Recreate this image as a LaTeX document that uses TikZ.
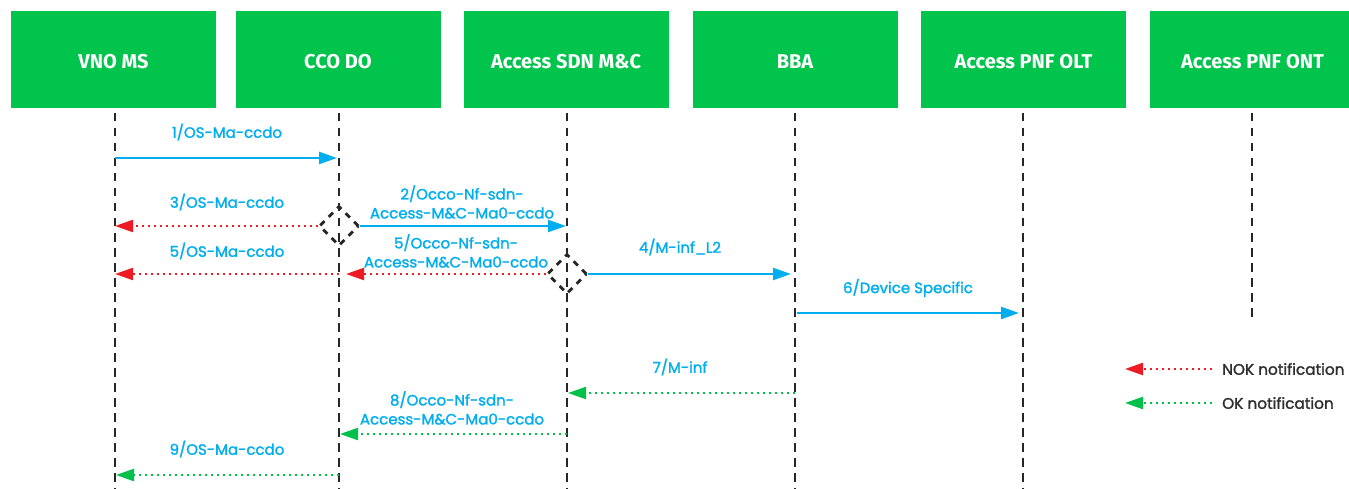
\documentclass[tikz,border=0pt]{standalone}
\usepackage{fontspec}
\setmainfont{Fira Sans}
\newfontfamily\lblfont[FakeBold=1.6]{Poppins}
\newfontfamily\headfont{Fira Sans}
\usetikzlibrary{arrows.meta,shapes.geometric}
\definecolor{boxgreen}{RGB}{0,196,76}
\definecolor{msgblue}{RGB}{0,174,239}
\definecolor{nokred}{RGB}{237,28,36}
\definecolor{okgreen}{RGB}{0,192,75}
\definecolor{lifegray}{RGB}{38,38,38}
\definecolor{legtext}{RGB}{45,45,45}
\tikzset{
  headbox/.style={fill=boxgreen, draw=none, minimum width=205pt, minimum height=97pt,
    inner sep=0pt, text=white, text height=19pt, text depth=0pt,
    font=\headfont\bfseries\fontsize{20}{22}\selectfont},
  lifeline/.style={draw=lifegray, line width=2.8pt, dash pattern=on 8.5pt off 6.5pt},
  decision/.style={diamond, aspect=1, draw=lifegray, line width=2.8pt, dash pattern=on 6pt off 6pt,
    minimum width=40pt, minimum height=40pt, inner sep=0pt},
  callmsg/.style={draw=msgblue, line width=2.4pt, -{Triangle[length=18pt,width=12pt]}},
  nokmsg/.style={draw=nokred, line width=2.3pt, dash pattern=on 2pt off 4pt,
    -{Triangle[length=18pt,width=12pt,fill=nokred]}},
  okmsg/.style={draw=okgreen, line width=2.3pt, dash pattern=on 2pt off 4pt,
    -{Triangle[length=18pt,width=12pt,fill=okgreen]}},
  msglabel/.style={text=msgblue, align=center, inner sep=0pt,
    font=\lblfont\fontsize{15}{19}\selectfont},
  legendtext/.style={text=legtext, anchor=west, inner sep=0pt,
    font=\lblfont\fontsize{15.3}{16}\selectfont}
}
\begin{document}
\begin{tikzpicture}[x=1pt,y=-1pt]
\useasboundingbox (0,0) rectangle (1349,489);
% heads
\node[headbox] (vno) at (113.5,59.5) {VNO MS};
\node[headbox] (cco) at (338,59.5) {CCO DO};
\node[headbox] (sdn) at (566,59.5) {Access SDN M\&C};
\node[headbox] (bba) at (795,59.5) {BBA};
\node[headbox] (olt) at (1023.5,59.5) {Access PNF OLT};
\begin{scope}
\clip (0,0) rectangle (1349,489);
\node[headbox] (ont) at (1252.5,59.5) {Access PNF ONT};
\end{scope}
% lifeline ends
\coordinate (vnoT) at (115,113); \coordinate (vnoB) at (115,489);
\coordinate (ccoT) at (339,113); \coordinate (ccoB) at (339,489);
\coordinate (sdnT) at (567,113); \coordinate (sdnB) at (567,489);
\coordinate (bbaT) at (795,113); \coordinate (bbaB) at (795,489);
\coordinate (oltT) at (1023,113); \coordinate (oltB) at (1023,489);
\coordinate (ontT) at (1252,113); \coordinate (ontB) at (1252,321);
\foreach \n in {vno,cco,sdn,bba,olt,ont} \draw[lifeline] (\n T) -- (\n B);
% decision diamonds
\node[decision] (d1) at (339,226) {};
\node[decision] (d2) at (567,274) {};
% message points
\coordinate (m1a) at (115,158); \coordinate (m1b) at (337,158);
\coordinate (m3b) at (115,226);
\coordinate (m2b) at (566,226);
\coordinate (m5a) at (339,274); \coordinate (m5b) at (115,274);
\coordinate (m5m) at (346,274);
\coordinate (m4b) at (791,274);
\coordinate (m6a) at (797,313); \coordinate (m6b) at (1019,313);
\coordinate (m7a) at (795,393); \coordinate (m7b) at (568,393);
\coordinate (m8a) at (567,434); \coordinate (m8b) at (340,434);
\coordinate (m9a) at (339,475); \coordinate (m9b) at (116,475);
% messages
\draw[callmsg] (m1a) -- (m1b);
\draw[nokmsg] (d1.west) -- (m3b);
\draw[callmsg] (d1.east) -- (m2b);
\draw[nokmsg] (m5a) -- (m5b);
\draw[nokmsg] (d2.west) -- (m5m);
\draw[callmsg] (d2.east) -- (m4b);
\draw[callmsg] (m6a) -- (m6b);
\draw[okmsg] (m7a) -- (m7b);
\draw[okmsg] (m8a) -- (m8b);
\draw[okmsg] (m9a) -- (m9b);
% labels
\node[msglabel] (l1) at (227,132) {1/OS-Ma-ccdo};
\node[msglabel] (l3) at (227,202) {3/OS-Ma-ccdo};
\node[msglabel] (l2) at (462,202) {2/Occo-Nf-sdn-\\Access-M\&C-Ma0-ccdo};
\node[msglabel] (l5a) at (227,251) {5/OS-Ma-ccdo};
\node[msglabel] (l5b) at (456,251) {5/Occo-Nf-sdn-\\Access-M\&C-Ma0-ccdo};
\node[msglabel] (l4) at (680,247) {4/M-inf\_L2};
\node[msglabel] (l6) at (908,288) {6/Device Specific};
\node[msglabel] (l7) at (680,367) {7/M-inf};
\node[msglabel] (l8) at (452,408) {8/Occo-Nf-sdn-\\Access-M\&C-Ma0-ccdo};
\node[msglabel] (l9) at (227,449) {9/OS-Ma-ccdo};
% legend
\coordinate (nokA) at (1212,369); \coordinate (nokB) at (1125,369);
\coordinate (okA) at (1212,403); \coordinate (okB) at (1125,403);
\draw[nokmsg] (nokA) -- (nokB);
\draw[okmsg] (okA) -- (okB);
\node[legendtext] (nokt) at (1222,369) {NOK notification};
\node[legendtext] (okt) at (1222,403) {OK notification};
\end{tikzpicture}
\end{document}
